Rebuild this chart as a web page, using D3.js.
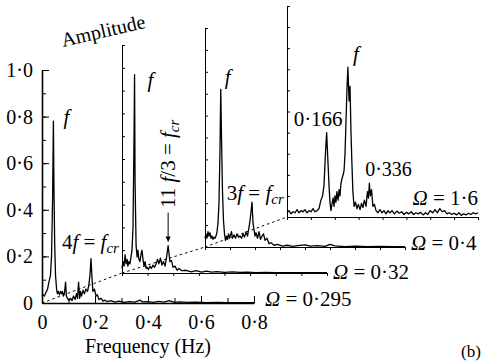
<!DOCTYPE html>
<html>
<head>
<meta charset="utf-8">
<script src="https://cdn.jsdelivr.net/npm/d3@7"></script>
<style>
  body { margin: 0; background: #fff; }
  svg text { font-family: "Liberation Serif", "DejaVu Serif", "Times New Roman", serif; }
</style>
</head>
<body>
<svg id="chart" width="483" height="362"></svg>
<script>
// spectra: [frequency (Hz), amplitude]
const spec0295 = [
  [0, 0.03], [0.004, 0.035], [0.009, 0.03], [0.015, 0.045], [0.021, 0.06], [0.026, 0.09],
  [0.032, 0.12], [0.036, 0.2], [0.040, 0.45], [0.043, 0.78], [0.045, 0.5], [0.048, 0.25],
  [0.051, 0.12], [0.055, 0.06], [0.058, 0.04], [0.062, 0.05], [0.066, 0.035], [0.070, 0.05],
  [0.074, 0.04], [0.077, 0.05], [0.081, 0.03], [0.085, 0.045], [0.089, 0.09], [0.092, 0.03],
  [0.096, 0.02], [0.102, 0.01], [0.108, 0.02], [0.113, 0.01], [0.119, 0.03], [0.125, 0.015],
  [0.130, 0.04], [0.134, 0.02], [0.138, 0.09], [0.142, 0.02], [0.145, 0.05], [0.149, 0.03],
  [0.155, 0.055], [0.160, 0.04], [0.166, 0.06], [0.172, 0.05], [0.177, 0.08], [0.181, 0.12],
  [0.185, 0.19], [0.189, 0.1], [0.192, 0.05], [0.198, 0.06], [0.204, 0.03], [0.209, 0.035],
  [0.215, 0.015], [0.223, 0.02], [0.230, 0.008], [0.238, 0.012], [0.245, 0.006], [0.26, 0.01],
  [0.275, 0.004], [0.29, 0.008], [0.31, 0.003], [0.33, 0.006], [0.35, 0.004], [0.37, 0.012],
  [0.38, 0.005], [0.40, 0.006], [0.42, 0.003], [0.44, 0.007], [0.46, 0.004], [0.48, 0.01],
  [0.50, 0.003], [0.52, 0.005], [0.55, 0.003], [0.58, 0.004], [0.62, 0.002], [0.66, 0.003],
  [0.70, 0.002], [0.75, 0.002], [0.8, 0.002]
];
const spec032 = [
  [0, 0.02], [0.004, 0.05], [0.008, 0.03], [0.012, 0.08], [0.016, 0.04], [0.020, 0.06],
  [0.023, 0.03], [0.027, 0.05], [0.031, 0.04], [0.035, 0.07], [0.039, 0.1], [0.043, 0.2],
  [0.047, 0.6], [0.049, 0.87], [0.051, 0.4], [0.055, 0.12], [0.059, 0.07], [0.062, 0.1],
  [0.066, 0.06], [0.070, 0.05], [0.074, 0.08], [0.078, 0.1], [0.082, 0.06], [0.086, 0.03],
  [0.090, 0.05], [0.094, 0.02], [0.098, 0.025], [0.103, 0.015], [0.109, 0.03], [0.115, 0.02],
  [0.121, 0.035], [0.127, 0.025], [0.133, 0.04], [0.139, 0.06], [0.144, 0.04], [0.150, 0.065],
  [0.156, 0.035], [0.162, 0.05], [0.168, 0.03], [0.174, 0.07], [0.180, 0.12], [0.183, 0.09],
  [0.187, 0.05], [0.193, 0.055], [0.199, 0.025], [0.207, 0.03], [0.215, 0.012], [0.222, 0.02],
  [0.234, 0.01], [0.25, 0.012], [0.27, 0.005], [0.29, 0.01], [0.31, 0.004], [0.33, 0.008],
  [0.35, 0.004], [0.37, 0.006], [0.40, 0.003], [0.43, 0.005], [0.46, 0.003], [0.49, 0.004],
  [0.52, 0.002], [0.56, 0.003], [0.6, 0.002], [0.65, 0.002], [0.7, 0.001], [0.8, 0.001]
];
const spec04 = [
  [0, 0.04], [0.004, 0.06], [0.008, 0.04], [0.012, 0.07], [0.016, 0.05], [0.020, 0.065],
  [0.024, 0.04], [0.028, 0.05], [0.032, 0.035], [0.036, 0.045], [0.040, 0.04], [0.044, 0.05],
  [0.048, 0.07], [0.052, 0.11], [0.056, 0.2], [0.060, 0.45], [0.063, 0.72], [0.066, 0.5],
  [0.070, 0.25], [0.074, 0.12], [0.078, 0.06], [0.082, 0.03], [0.086, 0.05], [0.090, 0.035],
  [0.094, 0.06], [0.098, 0.04], [0.102, 0.055], [0.106, 0.07], [0.110, 0.04], [0.116, 0.055],
  [0.122, 0.04], [0.128, 0.06], [0.134, 0.045], [0.140, 0.05], [0.146, 0.04], [0.152, 0.06],
  [0.158, 0.045], [0.164, 0.07], [0.170, 0.05], [0.176, 0.09], [0.180, 0.12], [0.184, 0.16],
  [0.188, 0.205], [0.192, 0.11], [0.196, 0.08], [0.200, 0.05], [0.204, 0.065], [0.210, 0.04],
  [0.216, 0.07], [0.222, 0.035], [0.228, 0.05], [0.234, 0.06], [0.240, 0.03], [0.248, 0.04],
  [0.256, 0.015], [0.264, 0.02], [0.276, 0.008], [0.29, 0.012], [0.31, 0.004], [0.33, 0.008],
  [0.35, 0.003], [0.37, 0.006], [0.40, 0.01], [0.42, 0.004], [0.45, 0.006], [0.48, 0.003],
  [0.50, 0.012], [0.52, 0.005], [0.56, 0.002], [0.6, 0.004], [0.65, 0.002], [0.7, 0.003],
  [0.75, 0.002], [0.8, 0.002]
];
const spec16 = [
  [0, 0.02], [0.008, 0.03], [0.017, 0.015], [0.025, 0.025], [0.034, 0.02], [0.042, 0.035],
  [0.050, 0.02], [0.059, 0.03], [0.067, 0.025], [0.075, 0.035], [0.084, 0.02], [0.092, 0.03],
  [0.101, 0.025], [0.109, 0.04], [0.117, 0.025], [0.126, 0.03], [0.134, 0.04], [0.142, 0.08],
  [0.149, 0.1], [0.155, 0.15], [0.161, 0.3], [0.166, 0.4], [0.172, 0.25], [0.176, 0.15],
  [0.180, 0.07], [0.184, 0.03], [0.188, 0.06], [0.193, 0.09], [0.197, 0.05], [0.201, 0.1],
  [0.205, 0.07], [0.209, 0.12], [0.214, 0.08], [0.218, 0.13], [0.222, 0.1], [0.226, 0.16],
  [0.230, 0.18], [0.235, 0.2], [0.239, 0.22], [0.243, 0.3], [0.247, 0.45], [0.251, 0.6],
  [0.255, 0.71], [0.260, 0.55], [0.264, 0.62], [0.268, 0.4], [0.272, 0.25], [0.276, 0.12],
  [0.281, 0.05], [0.287, 0.07], [0.293, 0.04], [0.299, 0.06], [0.306, 0.035], [0.312, 0.065],
  [0.318, 0.045], [0.324, 0.08], [0.331, 0.05], [0.337, 0.12], [0.341, 0.09], [0.345, 0.16],
  [0.349, 0.1], [0.354, 0.13], [0.360, 0.05], [0.366, 0.06], [0.373, 0.03], [0.381, 0.02],
  [0.389, 0.035], [0.398, 0.02], [0.406, 0.03], [0.415, 0.015], [0.423, 0.03], [0.43, 0.02],
  [0.44, 0.03], [0.45, 0.015], [0.46, 0.028], [0.47, 0.018], [0.48, 0.025], [0.49, 0.012],
  [0.5, 0.022], [0.51, 0.015], [0.52, 0.025], [0.53, 0.012], [0.54, 0.02], [0.55, 0.015],
  [0.56, 0.022], [0.57, 0.01], [0.58, 0.02], [0.59, 0.012], [0.6, 0.03], [0.61, 0.02],
  [0.62, 0.035], [0.63, 0.02], [0.64, 0.04], [0.65, 0.025], [0.66, 0.03], [0.67, 0.015],
  [0.68, 0.02], [0.69, 0.012], [0.7, 0.018], [0.71, 0.01], [0.72, 0.02], [0.73, 0.008],
  [0.74, 0.015], [0.75, 0.01], [0.76, 0.018], [0.77, 0.012], [0.78, 0.02], [0.79, 0.015],
  [0.8, 0.02]
];
const spectra = [spec0295, spec032, spec04, spec16];
const omegas = ["0·295", "0·32", "0·4", "1·6"];

const ampTicks = [0, 0.1, 0.2, 0.3, 0.4, 0.5, 0.6, 0.7, 0.8, 0.9, 1.0];
const ampLabels = [0, 0.2, 0.4, 0.6, 0.8, 1.0];
const freqTicks = [0, 0.1, 0.2, 0.3, 0.4, 0.5, 0.6, 0.7, 0.8];
const freqLabels = [0, 0.2, 0.4, 0.6, 0.8];

// waterfall layout: origin, width of 0.8 Hz, height of amplitude 1
const panels = [
  { ox: 42, oy: 303, w: 212, h: 233 },
  { ox: 122, oy: 273, w: 205, h: 228 },
  { ox: 205, oy: 247, w: 200, h: 219 },
  { ox: 287, oy: 217, w: 191, h: 211 }
];

const serif = "'Liberation Serif', 'DejaVu Serif', 'Times New Roman', serif";
const fmt = d => d === 0 ? "0" : d3.format(".1f")(d).replace(".", "·");

const svg = d3.select("#chart");

panels.forEach(p => {
  p.x = d3.scaleLinear().domain([0, 0.8]).range([p.ox, p.ox + p.w]);
  p.y = d3.scaleLinear().domain([0, 1]).range([p.oy, p.oy - p.h]);
});

// back to front
for (let i = panels.length - 1; i >= 0; i--) {
  const p = panels[i];
  const g = svg.append("g");
  const front = i === 0;

  const yAxis = g.append("g")
    .attr("transform", `translate(${p.x(0)},0)`)
    .call(d3.axisLeft(p.y).tickValues(ampTicks).tickSize(front ? -4 : -3)
      .tickSizeOuter(0).tickFormat(""));
  const xAxis = g.append("g")
    .attr("transform", `translate(0,${p.y(0)})`)
    .call(d3.axisBottom(p.x).tickValues(freqTicks).tickSize(front ? -5 : 3)
      .tickSizeOuter(0).tickFormat(""));
  [yAxis, xAxis].forEach(a => {
    a.select(".domain").attr("stroke-width", front ? 1.6 : 1);
    a.selectAll(".tick line").attr("stroke-width", 1);
  });

  g.append("path")
    .datum(spectra[i])
    .attr("fill", "none")
    .attr("stroke", "#000")
    .attr("stroke-width", 1.3)
    .attr("stroke-linejoin", "round")
    .attr("d", d3.line().x(d => p.x(d[0])).y(d => p.y(d[1])));

  if (front) {
    const yl = g.append("g")
      .attr("transform", `translate(${p.x(0)},0)`)
      .call(d3.axisLeft(p.y).tickValues(ampLabels).tickSize(-7).tickPadding(9)
        .tickSizeOuter(0).tickFormat(fmt));
    const xl = g.append("g")
      .attr("transform", `translate(0,${p.y(0)})`)
      .call(d3.axisBottom(p.x).tickValues(freqLabels).tickSize(-7).tickPadding(12)
        .tickSizeOuter(0).tickFormat(fmt));
    [yl, xl].forEach(a => {
      a.attr("font-family", serif).attr("font-size", 20);
      a.select(".domain").remove();
      a.selectAll("text").attr("fill", "#000");
    });
  }

  // Ω label
  const om = g.append("text")
    .attr("font-family", serif)
    .attr("font-size", 21)
    .attr("fill", "#000");
  if (i === 3) {
    om.attr("x", p.x(0.8)).attr("y", p.y(0) - 12).attr("text-anchor", "end");
  } else {
    om.attr("x", p.x(0.8) + (i === 0 ? 11 : 6)).attr("y", p.y(0) + (i === 0 ? 3 : i === 1 ? 6 : 3));
  }
  om.append("tspan").attr("font-style", "italic").text("Ω");
  om.append("tspan").text(" = " + omegas[i]);
}

// dashed lines joining the origins
for (let i = 0; i < panels.length - 1; i++) {
  svg.append("line")
    .attr("x1", panels[i].x(0)).attr("y1", panels[i].y(0))
    .attr("x2", panels[i + 1].x(0)).attr("y2", panels[i + 1].y(0))
    .attr("stroke", "#000")
    .attr("stroke-width", 1)
    .attr("stroke-dasharray", "2.5,3");
}

// annotations
const txt = (x, y, size) => svg.append("text").attr("x", x).attr("y", y)
  .attr("font-family", serif).attr("font-size", size || 21).attr("fill", "#000");
const fcr = (t) => {
  t.append("tspan").attr("font-style", "italic").text("f");
  t.append("tspan").attr("font-style", "italic").attr("font-size", 15).attr("dy", 4).text("cr");
};

const [p0, p1, p2, p3] = panels;
txt(p0.x(0.043) + 10, p0.y(0.78) + 3, 21).attr("font-style", "italic").text("f");
txt(p1.x(0.049) + 13, p1.y(0.87) + 12, 21).attr("font-style", "italic").text("f");
txt(p2.x(0.063) + 4, p2.y(0.72) - 5, 21).attr("font-style", "italic").text("f");
txt(p3.x(0.255) + 5, p3.y(0.71) - 6, 21).attr("font-style", "italic").text("f");

const t4 = txt(p0.x(0.075), p0.y(0.23));
t4.append("tspan").text("4");
t4.append("tspan").attr("font-style", "italic").text("f");
t4.append("tspan").text(" = ");
fcr(t4);

const t3 = txt(p2.x(0.087), p2.y(0.215));
t3.append("tspan").text("3");
t3.append("tspan").attr("font-style", "italic").text("f");
t3.append("tspan").text(" = ");
fcr(t3);

// 11 f/3 = f_cr, vertical with arrow to the peak
const ax = p1.x(0.180);
const t11 = svg.append("text")
  .attr("transform", `translate(${ax + 7},${p1.y(0.285)}) rotate(-90)`)
  .attr("font-family", serif).attr("font-size", 21).attr("fill", "#000");
t11.append("tspan").text("11 ");
t11.append("tspan").attr("font-style", "italic").text("f");
t11.append("tspan").text("/3 = ");
fcr(t11);
svg.append("line")
  .attr("x1", ax).attr("x2", ax)
  .attr("y1", p1.y(0.265)).attr("y2", p1.y(0.145))
  .attr("stroke", "#000").attr("stroke-width", 1);
svg.append("path")
  .attr("d", `M${ax - 2.5},${p1.y(0.16)}L${ax},${p1.y(0.135)}L${ax + 2.5},${p1.y(0.16)}Z`)
  .attr("fill", "#000");

txt(p3.x(0.166) - 33, p3.y(0.40) - 7, 21).text("0·166");
txt(p3.x(0.34) - 3, p3.y(0.175) - 4, 20).text("0·336");

svg.append("text")
  .attr("transform", `translate(63,47) rotate(-13)`)
  .attr("font-family", serif).attr("font-size", 20).attr("fill", "#000")
  .text("Amplitude");

svg.append("text")
  .attr("x", p0.x(0.4)).attr("y", 353)
  .attr("text-anchor", "middle")
  .attr("font-family", serif).attr("font-size", 20).attr("fill", "#000")
  .text("Frequency (Hz)");

svg.append("text")
  .attr("x", 461).attr("y", 357)
  .attr("font-family", serif).attr("font-size", 17).attr("fill", "#000")
  .text("(b)");
</script>
</body>
</html>
